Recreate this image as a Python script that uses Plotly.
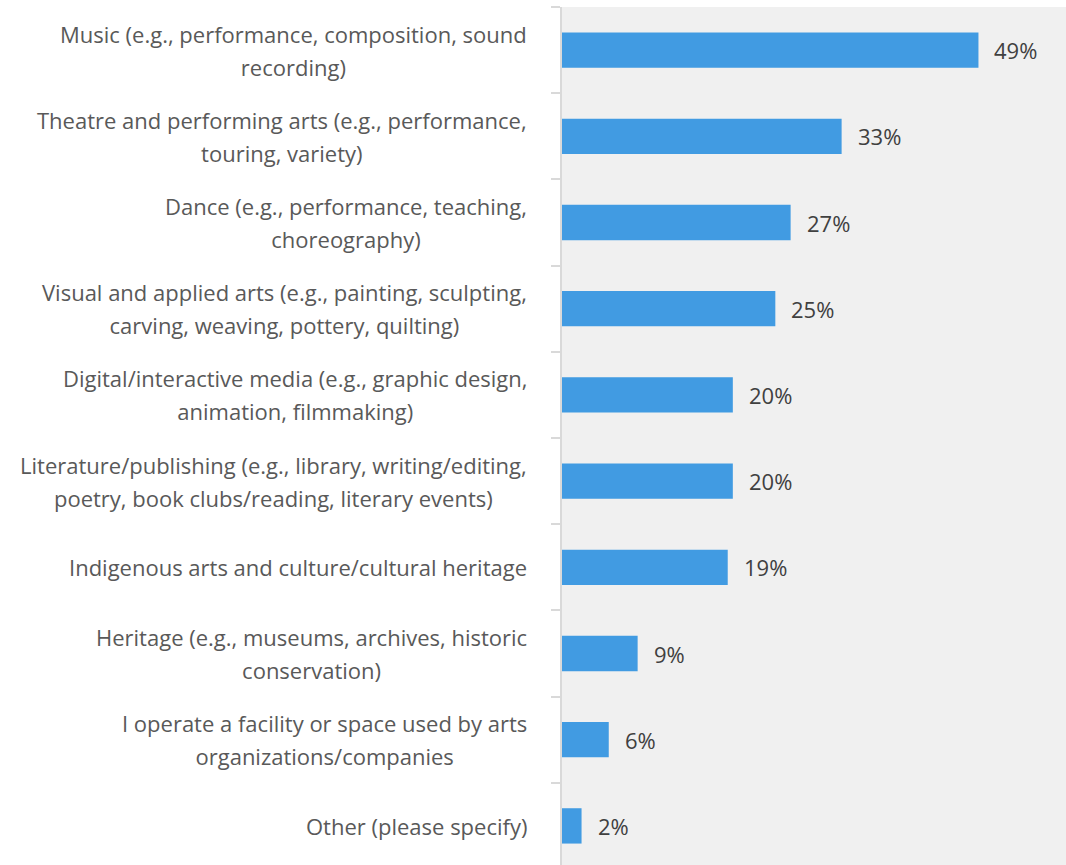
import plotly.graph_objects as go

categories = [
    "Music (e.g., performance, composition, sound<br>recording)",
    "Theatre and performing arts (e.g., performance,<br>touring, variety)",
    "Dance (e.g., performance, teaching,<br>choreography)",
    "Visual and applied arts (e.g., painting, sculpting,<br>carving, weaving, pottery, quilting)",
    "Digital/interactive media (e.g., graphic design,<br>animation, filmmaking)",
    "Literature/publishing (e.g., library, writing/editing,<br>poetry, book clubs/reading, literary events)",
    "Indigenous arts and culture/cultural heritage",
    "Heritage (e.g., museums, archives, historic<br>conservation)",
    "I operate a facility or space used by arts<br>organizations/companies",
    "Other (please specify)",
]
values = [49.0, 32.9, 26.9, 25.1, 20.1, 20.1, 19.5, 8.9, 5.5, 2.3]
value_labels = ["49%", "33%", "27%", "25%", "20%", "20%", "19%", "9%", "6%", "2%"]

FONT = "Open Sans"
fig = go.Figure()
fig.add_trace(go.Bar(
    y=categories, x=values, orientation="h",
    marker=dict(color="#419be2", line=dict(width=0)),
    width=0.41, hoverinfo="skip",
))

annotations = []
for c, v, t in zip(categories, values, value_labels):
    annotations.append(dict(x=v, y=c, xref="x", yref="y", text=t, showarrow=False,
                            xanchor="left", xshift=14,
                            font=dict(family=FONT, size=22, color="#404040")))
    lbl = "<br>".join('<span style="font-size:22px">%s</span>' % part for part in c.split("<br>"))
    annotations.append(dict(x=0, y=c, xref="x", yref="y", text=lbl, showarrow=False,
                            xanchor="right", align="center", xshift=-33,
                            font=dict(family=FONT, size=25.5, color="#595959")))

fig.update_layout(
    width=1066, height=869,
    margin=dict(l=562, r=0, t=7, b=0),
    paper_bgcolor="white", plot_bgcolor="#f0f0f0",
    showlegend=False,
    annotations=annotations,
    xaxis=dict(range=[0, 59.3], showgrid=False, showticklabels=False, zeroline=False,
               showline=False, ticks=""),
    yaxis=dict(autorange="reversed", showticklabels=False, showgrid=False,
               showline=True, linecolor="#d9d9d9", linewidth=2,
               ticks="outside", tickson="boundaries", ticklen=9, tickwidth=2,
               tickcolor="#d9d9d9", zeroline=False),
)

fig.write_html("out.html", config={"displayModeBar": False},
               post_script="document.body.style.margin='0';document.body.style.overflow='hidden';")
